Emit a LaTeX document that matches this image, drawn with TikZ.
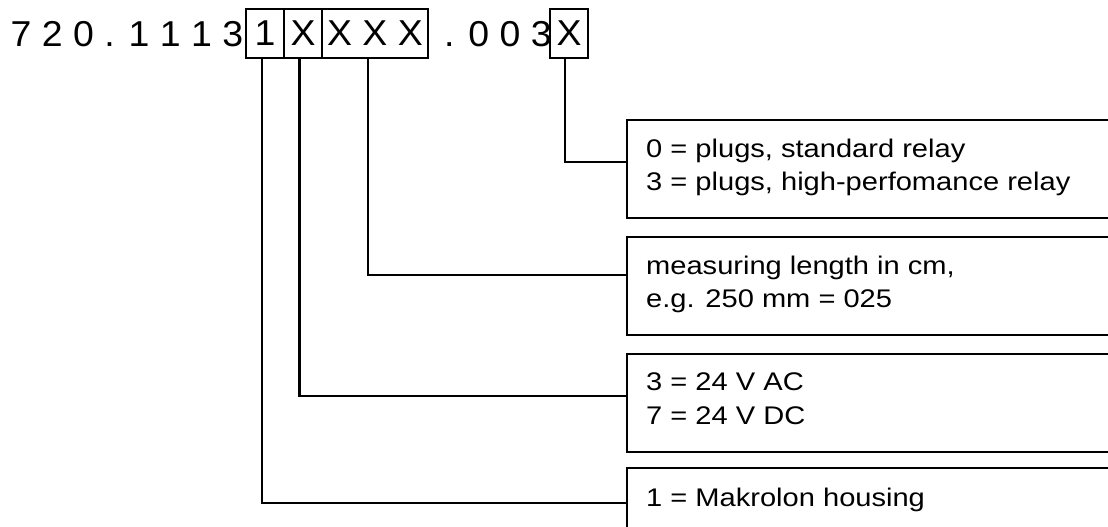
\documentclass[tikz,border=0pt]{standalone}
\usepackage{fontspec}
\setmainfont{Liberation Sans}
\newfontfamily\topfont[FakeStretch=1.04]{Liberation Sans}
\newfontfamily\boxfont[FakeStretch=1.14]{Liberation Sans}
\begin{document}
\begin{tikzpicture}[x=1pt,y=-1pt,
  digitbox/.style={draw, line width=2.3pt, inner sep=0pt, minimum height=49pt,
    font=\topfont\fontsize{36}{40}\selectfont},
  toptext/.style={inner sep=0pt, anchor=base west,
    font=\topfont\fontsize{36}{40}\selectfont},
  infobox/.style={draw, line width=2.3pt, anchor=north west, minimum width=540pt,
    minimum height=98pt, inner sep=0pt},
  infotext/.style={inner sep=0pt, anchor=base west, align=left,
    font=\boxfont\fontsize{25.5}{33.5}\selectfont},
  conn/.style={line width=2.3pt, line join=miter}]
\clip (0,0) rectangle (1108,527);
\fill[white] (0,0) rectangle (1108,527);

% code line
\node[toptext] (pre) at (10.5,47) {7 2 0 . 1 1 1 3};
\node[digitbox, minimum width=38pt] (d1) at (265,33.5) {1};
\node[digitbox, minimum width=38pt] (d2) at (303,33.5) {X};
\node[digitbox, minimum width=106pt] (d3) at (375,33.5) {X X X};
\node[toptext] (mid) at (444,47) {. 0 0 3};
\node[digitbox, minimum width=38pt] (d4) at (569,33.5) {X};

% explanation boxes
\node[infobox] (b1) at (626,119) {};
\node[infobox] (b2) at (626,236) {};
\node[infobox] (b3) at (626,353) {};
\node[infobox] (b4) at (626,467) {};

% (anchor base west of a two-line node = baseline of its last line)
\node[infotext] (t1) at ([xshift=20pt,yshift=-71.5pt]b1.north west)
  {0 = plugs, standard relay\\3 = plugs, high-perfomance relay};
\node[infotext] (t2) at ([xshift=20pt,yshift=-71.5pt]b2.north west)
  {measuring length in cm,\\e.g. 250 mm = 025};
\node[infotext] (t3) at ([xshift=20pt,yshift=-71pt]b3.north west)
  {3 = 24 V AC\\7 = 24 V DC};
\node[infotext] (t4) at ([xshift=20pt,yshift=-39pt]b4.north west)
  {1 = Makrolon housing};

% connectors
\draw[conn] ([xshift=-4pt]d4.south) |- ([yshift=-43pt]b1.north west);
\draw[conn] ([xshift=-7pt]d3.south) |- ([yshift=-39pt]b2.north west);
\draw[conn] ([xshift=-3.5pt]d2.south) |- ([yshift=-43pt]b3.north west);
\draw[conn] ([xshift=-3pt]d1.south) |- ([yshift=-36pt]b4.north west);
\end{tikzpicture}
\end{document}
